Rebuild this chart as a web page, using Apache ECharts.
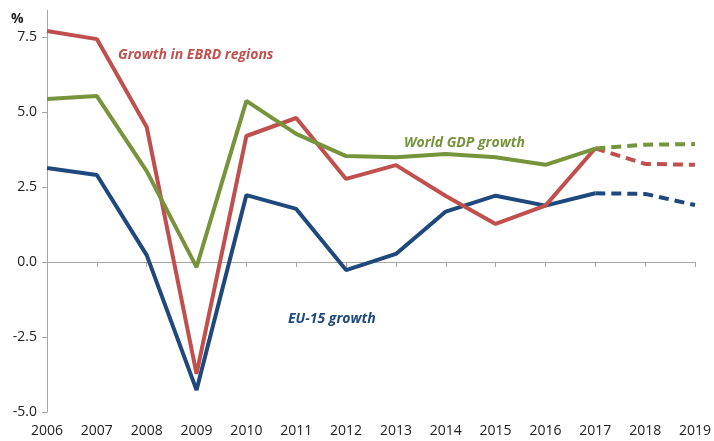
<!DOCTYPE html>
<html>
<head>
<meta charset="utf-8">
<script src="https://cdn.jsdelivr.net/npm/echarts@6/dist/echarts.min.js"></script>
<style>
  html, body { margin: 0; padding: 0; background: #fff; }
  #chart { width: 714px; height: 441px; }
</style>
</head>
<body>
<div id="chart"></div>
<script>
const years = ['2006', '2007', '2008', '2009', '2010', '2011', '2012', '2013', '2014', '2015', '2016', '2017', '2018', '2019']
const yTicks = [-5, -2.5, 0, 2.5, 5, 7.5]

// actuals up to 2017, forecasts 2017-2019 drawn dashed
const ebrdActual = [7.7, 7.43, 4.5, -3.73, 4.2, 4.8, 2.77, 3.23, 2.2, 1.27, 1.88, 3.79, null, null]
const ebrdForecast = [null, null, null, null, null, null, null, null, null, null, null, 3.79, 3.27, 3.24]
const worldActual = [5.43, 5.53, 3.03, -0.17, 5.37, 4.27, 3.53, 3.49, 3.6, 3.49, 3.24, 3.78, null, null]
const worldForecast = [null, null, null, null, null, null, null, null, null, null, null, 3.78, 3.91, 3.93]
const euActual = [3.13, 2.9, 0.23, -4.27, 2.23, 1.77, -0.27, 0.27, 1.68, 2.21, 1.88, 2.29, null, null]
const euForecast = [null, null, null, null, null, null, null, null, null, null, null, 2.29, 2.27, 1.9]

const RED = '#C0504D'
const GREEN = '#77933C'
const BLUE = '#1F497D'
const FONT = "'Open Sans', 'Noto Sans', sans-serif"

const line = (data, color, dashed) => ({
  type: 'line',
  data: data,
  xAxisIndex: 0,
  symbol: 'none',
  connectNulls: false,
  lineStyle: { color: color, width: 4, type: dashed ? [10, 6] : 'solid' },
  itemStyle: { color: color },
  z: dashed ? 3 : 4
})

const chart = echarts.init(document.getElementById('chart'))
chart.setOption({
  animation: false,
  grid: { left: 47, right: 17, top: 10, bottom: 29 },
  xAxis: [
    {
      type: 'category',
      data: years,
      boundaryGap: false,
      position: 'bottom',
      axisLine: { show: false, onZero: false },
      axisTick: { show: false },
      axisLabel: { color: '#222', fontSize: 14, fontFamily: FONT, margin: 12, interval: 0 }
    },
    {
      type: 'category',
      data: years,
      boundaryGap: false,
      position: 'bottom',
      axisLine: { show: true, onZero: true, lineStyle: { color: '#A6A6A6', width: 1 } },
      axisTick: { show: true, inside: false, length: 5, lineStyle: { color: '#A6A6A6' } },
      axisLabel: { show: false }
    }
  ],
  yAxis: {
    type: 'value',
    min: -5,
    max: 8.4,
    axisLine: { show: true, lineStyle: { color: '#A6A6A6', width: 1 } },
    axisTick: { show: true, length: 5, customValues: yTicks, lineStyle: { color: '#A6A6A6' } },
    axisLabel: {
      color: '#222', fontSize: 14, fontFamily: FONT, margin: 10,
      customValues: yTicks,
      formatter: v => v.toFixed(1)
    },
    splitLine: { show: false }
  },
  graphic: [
    { type: 'text', left: 11, top: 12, style: { text: '%', fill: '#222', font: 'bold 14px ' + FONT } },
    { type: 'text', left: 118, top: 48, style: { text: 'Growth in EBRD regions', fill: RED, font: 'italic bold 14px ' + FONT } },
    { type: 'text', left: 404, top: 136, style: { text: 'World GDP growth', fill: GREEN, font: 'italic bold 14px ' + FONT } },
    { type: 'text', left: 288, top: 312, style: { text: 'EU-15 growth', fill: BLUE, font: 'italic bold 14px ' + FONT } }
  ],
  series: [
    line(euActual, BLUE, false),
    line(euForecast, BLUE, true),
    line(ebrdActual, RED, false),
    line(ebrdForecast, RED, true),
    line(worldActual, GREEN, false),
    line(worldForecast, GREEN, true)
  ]
})
</script>
</body>
</html>
